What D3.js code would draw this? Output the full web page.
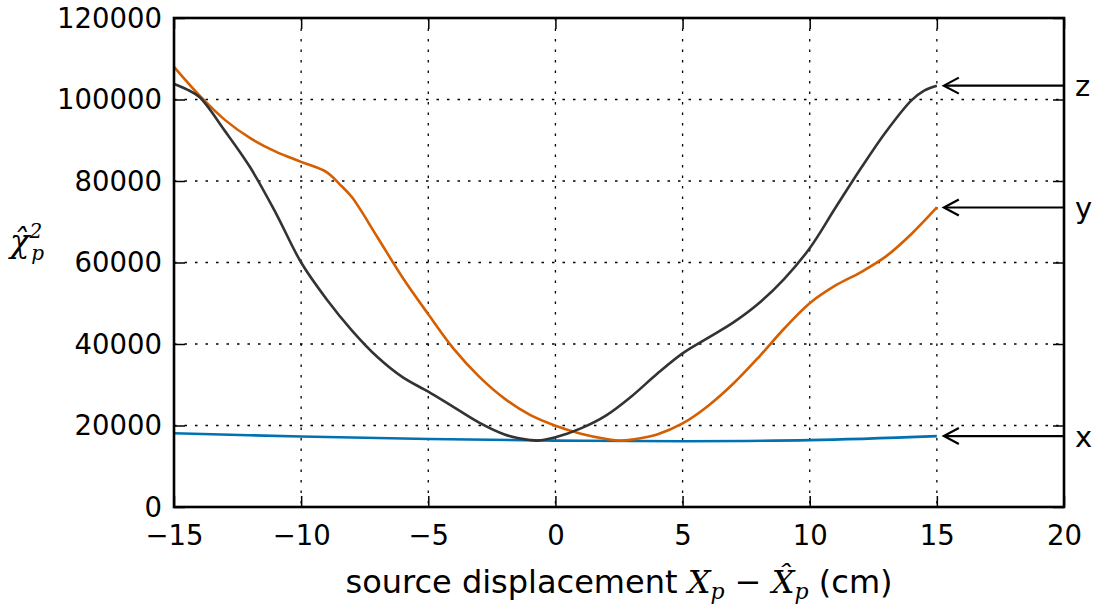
<!DOCTYPE html>
<html>
<head>
<meta charset="utf-8">
<script src="https://cdn.jsdelivr.net/npm/d3@7"></script>
<style>
  html, body { margin: 0; padding: 0; background: #fff; }
  svg { display: block; }
  .tick text { font-family: "DejaVu Sans", sans-serif; }
</style>
</head>
<body>
<svg id="chart" width="1106" height="609"></svg>
<script>
// Source displacement (cm) at which chi-squared was evaluated
const zX = [-15, -14.5, -14, -13, -12, -11, -10, -9, -8, -7, -6, -5, -4, -3, -2, -1, -0.7, 0, 1, 2, 3, 4, 5, 6, 7, 8, 9, 10, 11, 12, 13, 14, 14.5, 15];
const zChi = [103800, 102500, 100600, 92300, 83300, 72200, 60000, 51000, 43300, 36800, 31800, 28300, 24500, 20700, 17800, 16450, 16300, 17100, 19300, 22500, 27200, 32700, 37700, 41500, 45300, 50000, 56000, 63500, 73300, 83000, 92100, 99800, 102200, 103400];

const yX = [-15, -14, -13, -12, -11, -10, -9, -8.5, -8, -7, -6, -5, -4, -3, -2, -1, 0, 1, 2, 2.6, 3, 4, 5, 6, 7, 8, 9, 10, 11, 12, 13, 14, 15];
const yChi = [108000, 101000, 95000, 90500, 87200, 84700, 82200, 79300, 76000, 66200, 56200, 47300, 38800, 32000, 26600, 22600, 19950, 18000, 16700, 16300, 16550, 17800, 20500, 24800, 30300, 36800, 43800, 50000, 54300, 57600, 61500, 67000, 73500];

const xX = [-15, -10, -5, 0, 5, 10, 15];
const xChi = [18100, 17300, 16700, 16300, 16150, 16400, 17400];

const xTicks = [-15, -10, -5, 0, 5, 10, 15, 20];
const yTicks = [0, 20000, 40000, 60000, 80000, 100000, 120000];

const seriesNames = ["x", "y", "z"];
const seriesColors = ["#0072b2", "#d55e00", "#333333"];

const svg = d3.select("#chart");
const plotL = 174, plotR = 1064, plotT = 18, plotB = 507;

const x = d3.scaleLinear().domain([-15, 20]).range([plotL, plotR]);
const y = d3.scaleLinear().domain([0, 120000]).range([plotB, plotT]);

// Grid
const grid = svg.append("g").attr("stroke", "#000").attr("stroke-width", 1.3)
  .attr("stroke-dasharray", "2.5,8");
grid.selectAll("line.v").data(xTicks.slice(1, -1)).join("line").attr("class", "v")
  .attr("x1", d => x(d)).attr("x2", d => x(d)).attr("y1", plotT).attr("y2", plotB);
grid.selectAll("line.h").data(yTicks.slice(1, -1)).join("line").attr("class", "h")
  .attr("x1", plotL).attr("x2", plotR).attr("y1", d => y(d)).attr("y2", d => y(d));

// Curves
const line = d3.line().x(d => x(d[0])).y(d => y(d[1])).curve(d3.curveCatmullRom.alpha(0.5));
const series = [
  { name: seriesNames[0], pts: d3.zip(xX, xChi), color: seriesColors[0] },
  { name: seriesNames[1], pts: d3.zip(yX, yChi), color: seriesColors[1] },
  { name: seriesNames[2], pts: d3.zip(zX, zChi), color: seriesColors[2] }
];
svg.append("g").selectAll("path").data(series).join("path")
  .attr("d", d => line(d.pts))
  .attr("fill", "none")
  .attr("stroke", d => d.color)
  .attr("stroke-width", 2.6)
  .attr("stroke-linejoin", "round");

// Axes with inward ticks on all four sides
const tickLen = 11;
const axB = svg.append("g").attr("transform", `translate(0,${plotB})`)
  .call(d3.axisBottom(x).tickValues(xTicks).tickSize(-tickLen).tickPadding(18)
    .tickFormat(d => d < 0 ? "\u2212" + Math.abs(d) : d));
const axT = svg.append("g").attr("transform", `translate(0,${plotT})`)
  .call(d3.axisTop(x).tickValues(xTicks).tickSize(-tickLen).tickFormat(""));
const axL = svg.append("g").attr("transform", `translate(${plotL},0)`)
  .call(d3.axisLeft(y).tickValues(yTicks).tickSize(-tickLen).tickPadding(12)
    .tickFormat(d3.format("d")));
const axR = svg.append("g").attr("transform", `translate(${plotR},0)`)
  .call(d3.axisRight(y).tickValues(yTicks).tickSize(-tickLen).tickFormat(""));
[axB, axT, axL, axR].forEach(a => {
  a.select(".domain").remove();
  a.selectAll(".tick line").attr("stroke", "#000").attr("stroke-width", 1.5);
  a.selectAll(".tick text").attr("font-size", 27.5).attr("fill", "#000");
});
axB.selectAll(".tick text").attr("dy", "0.71em");
axL.selectAll(".tick text").attr("dy", "0.34em");

// Frame
svg.append("rect").attr("x", plotL).attr("y", plotT)
  .attr("width", plotR - plotL).attr("height", plotB - plotT)
  .attr("fill", "none").attr("stroke", "#000").attr("stroke-width", 2.6);

// Arrows naming each curve at its right end
const ann = svg.append("g");
series.forEach(s => {
  const last = s.pts[s.pts.length - 1];
  const ty = y(last[1]);
  const tip = x(last[0]) + 7;
  ann.append("line").attr("x1", plotR).attr("x2", tip + 1).attr("y1", ty).attr("y2", ty)
    .attr("stroke", "#000").attr("stroke-width", 2.2);
  ann.append("path")
    .attr("d", `M${tip + 15},${ty - 8} L${tip},${ty} L${tip + 15},${ty + 8}`)
    .attr("fill", "none").attr("stroke", "#000").attr("stroke-width", 2.2);
  ann.append("text").attr("x", plotR + 11).attr("y", ty).attr("dy", "0.36em")
    .attr("font-family", "DejaVu Sans, sans-serif").attr("font-size", 29)
    .text(s.name);
});

// Axis labels
const xl = svg.append("text").attr("x", 619).attr("y", 593)
  .attr("text-anchor", "middle")
  .attr("font-family", "DejaVu Sans, sans-serif").attr("font-size", 32);
xl.append("tspan").text("source displacement ");
xl.append("tspan").attr("font-family", "DejaVu Serif, serif").attr("font-style", "italic").text("X");
xl.append("tspan").attr("font-family", "DejaVu Serif, serif").attr("font-style", "italic")
  .attr("font-size", 22).attr("dy", 6).text("p");
xl.append("tspan").attr("dy", -6).text(" \u2212 ");
xl.append("tspan").attr("font-family", "DejaVu Serif, serif").attr("font-style", "italic").text("X\u0302");
xl.append("tspan").attr("font-family", "DejaVu Serif, serif").attr("font-style", "italic")
  .attr("font-size", 22).attr("dy", 6).text("p");
xl.append("tspan").attr("dy", -6).text(" (cm)");

const yl = svg.append("text").attr("x", 10).attr("y", 252)
  .attr("font-family", "DejaVu Serif, serif").attr("font-style", "italic").attr("font-size", 32);
yl.append("tspan").text("\u03C7\u0302");
yl.append("tspan").attr("font-size", 20).attr("dy", -14).text("2");
yl.append("tspan").attr("font-size", 20).attr("dx", -11).attr("dy", 22).text("p");
</script>
</body>
</html>
